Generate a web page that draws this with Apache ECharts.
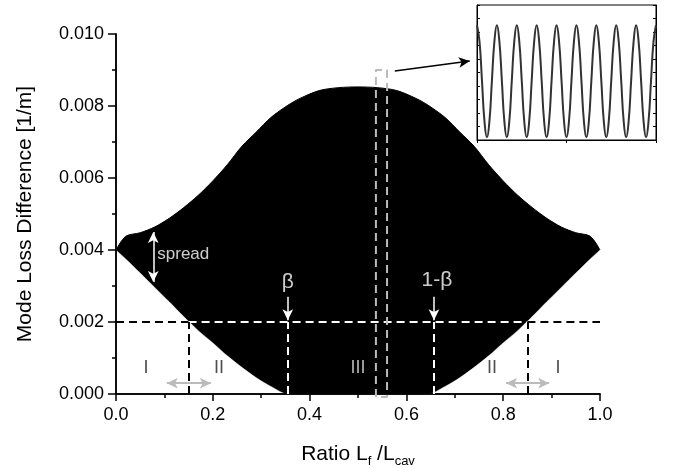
<!DOCTYPE html>
<html><head><meta charset="utf-8">
<script src="https://cdn.jsdelivr.net/npm/echarts@6/dist/echarts.min.js"></script>
<style>html,body{margin:0;padding:0;background:#fff}#c{width:674px;height:468px}</style>
</head><body><div id="c"></div>
<script>
// ---- data ----
const ratioX = [0,0.02,0.05,0.08,0.11,0.14,0.17,0.20,0.23,0.26,0.29,0.32,0.355,0.38,0.42,0.46,0.50,
                0.54,0.58,0.62,0.645,0.68,0.71,0.74,0.77,0.80,0.83,0.86,0.89,0.92,0.95,0.98,1.00];
const upperLoss = [0.00400,0.00438,0.00448,0.00464,0.00488,0.00518,0.00552,0.00592,0.00637,0.00688,0.00728,0.00768,0.00802,0.00821,0.00843,0.00851,0.00853,
                   0.00851,0.00843,0.00821,0.00802,0.00768,0.00728,0.00688,0.00637,0.00592,0.00552,0.00518,0.00488,0.00464,0.00448,0.00438,0.00400];
const lowerLoss = [0.00400,0.00375,0.00336,0.00296,0.00256,0.00215,0.00176,0.00142,0.00106,0.00074,0.00045,0.00021,0,0,0,0,0,
                   0,0,0,0,0.00021,0.00045,0.00074,0.00106,0.00142,0.00176,0.00215,0.00256,0.00296,0.00336,0.00375,0.00400];
// inset: zoom of the oscillation (9 periods, 8 samples per period)
const insetValues = [
 0.85,0.73,0.44,0.14,0.02,0.14,0.44,0.73,
 0.85,0.73,0.44,0.14,0.02,0.14,0.44,0.73,
 0.85,0.73,0.44,0.14,0.02,0.14,0.44,0.73,
 0.85,0.73,0.44,0.14,0.02,0.14,0.44,0.73,
 0.85,0.73,0.44,0.14,0.02,0.14,0.44,0.73,
 0.85,0.73,0.44,0.14,0.02,0.14,0.44,0.73,
 0.85,0.73,0.44,0.14,0.02,0.14,0.44,0.73,
 0.85,0.73,0.44,0.14,0.02,0.14,0.44,0.73,
 0.85,0.73,0.44,0.14,0.02,0.14,0.44,0.73,
 0.85];
const insetSamplesPerPeriod = 8;
// annotation geometry (data units)
const threshold = 0.002;
const crossLeft = 0.15, crossRight = 0.85;
const betaX = 0.355, oneMinusBetaX = 0.657;
const spreadArrow = {x: 0.077, y0: 0.0045, y1: 0.00311};
const zoomBox = [[0.537,-0.00008],[0.537,0.0090],[0.560,0.0090],[0.560,-0.00008],[0.537,-0.00008]];
const insetArrow = [[0.576,0.00897],[0.731,0.00925]];
const grayArrows = [[[0.105,0.0003],[0.196,0.0003]],[[0.806,0.0003],[0.895,0.0003]]];
const textLabels = [
  {text:'spread', x:0.139, y:0.00388, color:'#fff', size:17},
  {text:'β', x:0.355, y:0.00310, color:'#fff', size:21},
  {text:'1-β', x:0.663, y:0.00315, color:'#fff', size:21},
  {text:'I', x:0.062, y:0.00072, color:'#222', size:18},
  {text:'II', x:0.213, y:0.00072, color:'#222', size:18},
  {text:'III', x:0.500, y:0.00072, color:'#ddd', size:18},
  {text:'II', x:0.777, y:0.00072, color:'#222', size:18},
  {text:'I', x:0.913, y:0.00072, color:'#222', size:18}
];

const FONT = 'Liberation Sans, Arial, sans-serif';
const chart = echarts.init(document.getElementById('c'), null, {renderer:'canvas'});

const upperData = ratioX.map((x,i)=>[x, upperLoss[i]]);
const lowerData = ratioX.map((x,i)=>[x, lowerLoss[i]]);
const insetData = insetValues.map((v,i)=>[i/insetSamplesPerPeriod, v]);

const dashBlack = {color:'#000', type:[8,5], width:2};
const dashWhite = {color:'#fff', type:[8,5], width:2};
const seg = (a,b,style,sym)=>[
  {coord:a, symbol:(sym&&sym[0])||'none', symbolSize:[8,11]},
  {coord:b, symbol:(sym&&sym[1])||'none', symbolSize:[8,11], lineStyle:style}
];
const markData = [
  seg([0,threshold],[crossLeft,threshold],dashBlack),
  seg([crossLeft,threshold],[crossRight,threshold],dashWhite),
  seg([crossRight,threshold],[1,threshold],dashBlack),
  seg([crossLeft,0],[crossLeft,threshold],dashBlack),
  seg([crossRight,0],[crossRight,threshold],dashBlack),
  seg([betaX,0],[betaX,threshold],dashWhite),
  seg([oneMinusBetaX,0],[oneMinusBetaX,threshold],dashWhite),
  seg([betaX,0.0027],[betaX,threshold+0.00005],{color:'#fff',width:1.5,type:'solid'},['none','arrow']),
  seg([oneMinusBetaX,0.0027],[oneMinusBetaX,threshold+0.00005],{color:'#fff',width:1.5,type:'solid'},['none','arrow']),
  seg([spreadArrow.x,spreadArrow.y0],[spreadArrow.x,spreadArrow.y1],{color:'#fff',width:1.5,type:'solid'},['arrow','arrow']),
  seg(insetArrow[0],insetArrow[1],{color:'#000',width:1.5,type:'solid'},['none','arrow']),
  seg(grayArrows[0][0],grayArrows[0][1],{color:'#bbb',width:2,type:'solid'},['arrow','arrow']),
  seg(grayArrows[1][0],grayArrows[1][1],{color:'#bbb',width:2,type:'solid'},['arrow','arrow'])
];

const axisLineStyle = {color:'#000', width:1.5};
const option = {
  animation:false,
  backgroundColor:'#fff',
  textStyle:{fontFamily:FONT},
  grid:[
    {left:116, top:34, width:484, height:360, containLabel:false, outerBoundsMode:'none'},
    {left:477, top:5, width:179, height:135, show:true, backgroundColor:'#fff', borderColor:'#000', borderWidth:1, z:10,
     containLabel:false, outerBoundsMode:'none'}
  ],
  xAxis:[
    {gridIndex:0, type:'value', min:0, max:1, interval:0.2, position:'bottom', z:3,
     name:'{a|Ratio L}{s|f}{a| /L}{s|cav}', nameLocation:'middle', nameGap:50,
     nameTextStyle:{rich:{a:{fontSize:21, color:'#000', fontFamily:FONT, lineHeight:24, verticalAlign:'top'},
                          s:{fontSize:13, color:'#000', fontFamily:FONT, lineHeight:12, verticalAlign:'bottom'}}},
     axisLine:{lineStyle:axisLineStyle}, axisTick:{length:7, lineStyle:{width:1.5,color:'#000'}},
     minorTick:{show:true, splitNumber:2, length:4, lineStyle:{width:1.5,color:'#000'}},
     axisLabel:{fontSize:18, color:'#000', margin:12, formatter:v=>v.toFixed(1)},
     splitLine:{show:false}},
    {gridIndex:0, type:'value', min:0, max:1, interval:0.2, position:'top', z:3,
     axisLine:{lineStyle:axisLineStyle}, axisTick:{inside:true, length:7, lineStyle:{width:1.5,color:'#000'}},
     minorTick:{show:true, splitNumber:2, length:4, lineStyle:{width:1.5,color:'#000'}},
     axisLabel:{show:false}, splitLine:{show:false}},
    {gridIndex:1, type:'value', min:0, max:9, interval:4.5, position:'top', z:11,
     axisLine:{lineStyle:{color:'#000',width:1}}, axisTick:{inside:true, length:3, lineStyle:{color:'#000'}},
     axisLabel:{show:false}, splitLine:{show:false}}
  ],
  yAxis:[
    {gridIndex:0, type:'value', min:0, max:0.010, interval:0.002, position:'left', z:3,
     name:'Mode Loss Difference [1/m]', nameLocation:'middle', nameGap:80,
     nameTextStyle:{fontSize:21, color:'#000', fontFamily:FONT},
     axisLine:{show:true, lineStyle:axisLineStyle}, axisTick:{show:true, length:8, lineStyle:{width:1.5,color:'#000'}},
     minorTick:{show:true, splitNumber:2, length:4, lineStyle:{width:1.5,color:'#000'}},
     axisLabel:{fontSize:18, color:'#000', margin:12, formatter:v=>v.toFixed(3)},
     splitLine:{show:false}},
    {gridIndex:0, type:'value', min:0, max:0.010, interval:0.002, position:'right', z:3,
     axisLine:{show:true, lineStyle:axisLineStyle}, axisTick:{show:true, inside:true, length:7, lineStyle:{width:1.5,color:'#000'}},
     minorTick:{show:true, splitNumber:2, length:4, lineStyle:{width:1.5,color:'#000'}},
     axisLabel:{show:false}, splitLine:{show:false}},
    {gridIndex:1, type:'value', min:0, max:1, interval:0.1, position:'left', z:11,
     axisLine:{show:true, lineStyle:{color:'#000',width:1}}, axisTick:{show:true, inside:true, length:3, lineStyle:{color:'#000'}},
     axisLabel:{show:false}, splitLine:{show:false}},
    {gridIndex:1, type:'value', min:0, max:1, interval:0.1, position:'right', z:11,
     axisLine:{show:true, lineStyle:{color:'#000',width:1}}, axisTick:{show:true, inside:true, length:3, lineStyle:{color:'#000'}},
     axisLabel:{show:false}, splitLine:{show:false}}
  ],
  series:[
    {type:'line', name:'upper', xAxisIndex:0, yAxisIndex:0, data:upperData,
     symbol:'none', smooth:0.3, lineStyle:{color:'#000', width:1}, areaStyle:{color:'#000', opacity:1, origin:'start'}, silent:true, z:2},
    {type:'line', name:'lower', xAxisIndex:0, yAxisIndex:0, data:lowerData,
     symbol:'none', smooth:0.3, lineStyle:{color:'#fff', width:0.5}, areaStyle:{color:'#fff', opacity:1, origin:'start'}, silent:true, z:2},
    {type:'line', name:'zoomBox', xAxisIndex:0, yAxisIndex:0, data:zoomBox, clip:false,
     symbol:'none', lineStyle:{color:'#bbb', width:2, type:[8,5]}, silent:true, z:5},
    {type:'line', name:'annot', xAxisIndex:0, yAxisIndex:0, data:[], silent:true, z:5,
     markLine:{silent:true, animation:false, label:{show:false}, symbol:['none','none'],
       lineStyle:{type:'solid'}, emphasis:{disabled:true}, data:markData}},
    {type:'scatter', name:'labels', xAxisIndex:0, yAxisIndex:0, symbolSize:0, silent:true, z:6,
     data:textLabels.map(t=>({value:[t.x,t.y], label:{show:true, position:'inside', formatter:t.text, color:t.color, fontSize:t.size, fontFamily:FONT}}))},
    {type:'line', name:'inset', xAxisIndex:2, yAxisIndex:2, data:insetData, symbol:'none', smooth:0.5,
     lineStyle:{color:'#333', width:2}, silent:true, z:12}
  ]
};
chart.setOption(option);
</script></body></html>
